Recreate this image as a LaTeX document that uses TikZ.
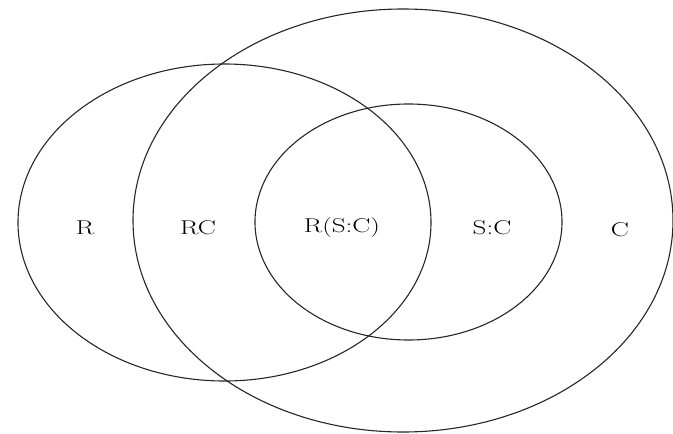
\documentclass[tikz,border=0pt]{standalone}
\usepackage{fontspec}
\setmainfont{Latin Modern Roman}
\begin{document}
\begin{tikzpicture}[x=1pt,y=-1pt,
  setline/.style={draw=black!85,line width=1.1pt},
  lab/.style={font=\fontsize{20}{24}\selectfont,inner sep=0pt}]
\useasboundingbox (0,0) rectangle (673,434);
\draw[setline] (224.5,222.5) ellipse [x radius=206.5,y radius=158.5];
\draw[setline] (403,220.5) ellipse [x radius=270,y radius=211.5];
\draw[setline] (408.5,222) ellipse [x radius=153.5,y radius=118];
\node[lab] (r) at (85,228) {\scalebox{1.35}[1]{R}};
\node[lab] (rc) at (198,228) {\scalebox{1.35}[1]{RC}};
\node[lab] (rsc) at (342,228) {\scalebox{1.35}[1]{R(S:C)}};
\node[lab] (sc) at (492,228) {\scalebox{1.35}[1]{S:C}};
\node[lab] (c) at (620,230) {\scalebox{1.35}[1]{C}};
\end{tikzpicture}
\end{document}
